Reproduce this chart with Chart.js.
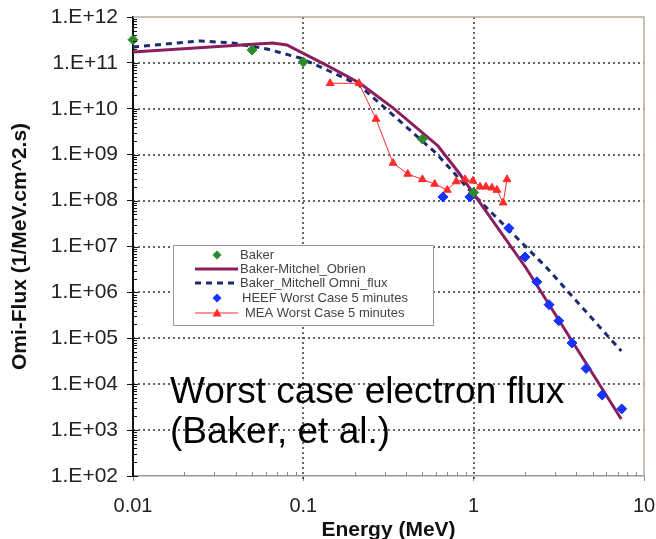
<!DOCTYPE html>
<html>
<head>
<meta charset="utf-8">
<style>
  html, body { margin: 0; padding: 0; background: #fff; }
  #wrap { width: 656px; height: 539px; }
</style>
<script src="https://cdn.jsdelivr.net/npm/chart.js@4.4.1/dist/chart.umd.min.js"></script>
</head>
<body>
<div id="wrap"><canvas id="chart" width="656" height="539"></canvas></div>
<script>
// Data (energy in MeV, flux in 1/MeV.cm^2.s)
const bakerE = [0.01, 0.05, 0.1, 0.5, 1.0];
const bakerFlux = [3.2e11, 1.9e11, 1.05e11, 2.2e9, 1.5e8];

const obrienE = [0.01, 0.066, 0.08, 0.14, 0.215, 0.336, 0.618, 0.82, 1.03, 2.03, 7.35];
const obrienFlux = [1.73e11, 2.72e11, 2.46e11, 8.5e10, 3.6e10, 1.05e10, 1.55e9, 4e8, 1.2e8, 3.4e6, 1.74e3];

const omniE = [0.01, 0.0247, 0.0386, 0.0612, 0.0957, 0.138, 0.212, 0.336, 0.6, 1.03, 1.55, 2.66, 6.59, 7.35];
const omniFlux = [2.22e11, 3.0e11, 2.72e11, 2.01e11, 1.28e11, 7.0e10, 3.3e10, 7.3e9, 1.09e9, 1.2e8, 2.66e7, 3.57e6, 8.3e4, 5.3e4];

const heefE = [0.66, 0.95, 1.61, 2.0, 2.35, 2.77, 3.16, 3.78, 4.57, 5.68, 7.4];
const heefFlux = [1.2e8, 1.2e8, 2.5e7, 5.9e6, 1.7e6, 5.4e5, 2.4e5, 7.9e4, 2.2e4, 5.8e3, 2.9e3];

const meaE = [0.1436, 0.212, 0.267, 0.336, 0.41, 0.5, 0.59, 0.7, 0.79, 0.89, 0.99, 1.09, 1.18, 1.28, 1.37, 1.49, 1.57];
const meaFlux = [3.6e10, 3.6e10, 6e9, 6.6e8, 3.8e8, 2.9e8, 2.3e8, 1.7e8, 2.6e8, 2.9e8, 2.7e8, 2e8, 2e8, 1.9e8, 1.7e8, 9e7, 2.9e8];

const xTicks = [0.01, 0.1, 1, 10];
const yTicks = [1e2, 1e3, 1e4, 1e5, 1e6, 1e7, 1e8, 1e9, 1e10, 1e11, 1e12];

const legendNames = ['Baker', 'Baker-Mitchel_Obrien', 'Baker_Mitchell Omni_flux', 'HEEF Worst Case 5 minutes', 'MEA Worst Case 5 minutes'];
const noteLines = ['Worst case electron flux', '(Baker, et al.)'];

const FONT = "'Liberation Sans', Arial, sans-serif";
Chart.defaults.font.family = FONT;

function pts(xs, ys) {
    return xs.map((x, i) => ({ x: x, y: ys[i] }));
}

const colors = {
    baker: '#2b8a2b',
    obrien: '#8b1f5e',
    omni: '#1c2a6e',
    heef: '#1533ff',
    mea: '#ff2a2a'
};

// dotted grid at the decades, drawn under the data
const dottedGrid = {
    id: 'dottedGrid',
    beforeDatasetsDraw(chart) {
        const ctx = chart.ctx;
        const xs = chart.scales.x;
        const ys = chart.scales.y;
        const a = chart.chartArea;
        ctx.save();
        ctx.strokeStyle = '#333';
        ctx.lineWidth = 1.5;
        ctx.setLineDash([2, 3]);
        yTicks.slice(1, -1).forEach(v => {
            const py = Math.round(ys.getPixelForValue(v));
            ctx.beginPath();
            ctx.moveTo(a.left, py);
            ctx.lineTo(a.right, py);
            ctx.stroke();
        });
        xTicks.slice(1, -1).forEach(v => {
            const px = Math.round(xs.getPixelForValue(v));
            ctx.beginPath();
            ctx.moveTo(px, a.top);
            ctx.lineTo(px, a.bottom + 4);
            ctx.stroke();
        });
        ctx.restore();
    }
};

// minor ticks, top/right frame, legend box and the note text
const decorations = {
    id: 'decorations',
    afterDraw(chart) {
        const ctx = chart.ctx;
        const xs = chart.scales.x;
        const ys = chart.scales.y;
        const a = chart.chartArea;
        ctx.save();

        // frame top and right
        ctx.strokeStyle = '#b5ab98';
        ctx.lineWidth = 1.5;
        ctx.beginPath();
        ctx.moveTo(a.left, a.top);
        ctx.lineTo(a.right, a.top);
        ctx.lineTo(a.right, a.bottom);
        ctx.stroke();

        // y minor ticks (inside)
        ctx.strokeStyle = '#111';
        ctx.lineWidth = 1;
        for (let e = 2; e < 12; e++) {
            for (let k = 1; k < 10; k++) {
                const py = Math.round(ys.getPixelForValue(k * Math.pow(10, e))) + 0.5;
                ctx.beginPath();
                ctx.moveTo(a.left, py);
                ctx.lineTo(a.left + (k === 1 ? 5 : 4), py);
                ctx.stroke();
            }
        }
        // x minor ticks (inside)
        ctx.strokeStyle = '#888';
        for (let e = -2; e < 1; e++) {
            for (let k = 2; k < 10; k++) {
                const px = Math.round(xs.getPixelForValue(k * Math.pow(10, e))) + 0.5;
                ctx.beginPath();
                ctx.moveTo(px, a.bottom);
                ctx.lineTo(px, a.bottom - 4);
                ctx.stroke();
            }
        }

        // note text
        ctx.fillStyle = '#000';
        ctx.font = '37px ' + FONT;
        ctx.textAlign = 'left';
        ctx.textBaseline = 'alphabetic';
        ctx.fillText(noteLines[0], 170, 403);
        ctx.fillText(noteLines[1], 170, 443);

        // legend
        const lx = 173, ly = 245, lw = 260, lh = 80;
        ctx.fillStyle = '#fff';
        ctx.fillRect(lx, ly, lw, lh);
        ctx.strokeStyle = '#999';
        ctx.lineWidth = 1;
        ctx.strokeRect(lx + 0.5, ly + 0.5, lw, lh);

        const rows = [255, 269, 283, 298, 313];
        const textX = [240, 240, 240, 242, 245];
        const sx = 217;

        function diamond(x, y, r, c) {
            ctx.fillStyle = c;
            ctx.beginPath();
            ctx.moveTo(x, y - r);
            ctx.lineTo(x + r, y);
            ctx.lineTo(x, y + r);
            ctx.lineTo(x - r, y);
            ctx.closePath();
            ctx.fill();
        }

        diamond(sx, rows[0], 4.5, colors.baker);

        ctx.strokeStyle = colors.obrien;
        ctx.lineWidth = 3;
        ctx.beginPath();
        ctx.moveTo(195, rows[1]);
        ctx.lineTo(238, rows[1]);
        ctx.stroke();

        ctx.strokeStyle = colors.omni;
        ctx.setLineDash([6, 5]);
        ctx.beginPath();
        ctx.moveTo(195, rows[2]);
        ctx.lineTo(238, rows[2]);
        ctx.stroke();
        ctx.setLineDash([]);

        diamond(sx, rows[3], 4.5, colors.heef);

        ctx.strokeStyle = colors.mea;
        ctx.lineWidth = 1;
        ctx.beginPath();
        ctx.moveTo(195, rows[4]);
        ctx.lineTo(238, rows[4]);
        ctx.stroke();
        ctx.fillStyle = colors.mea;
        ctx.beginPath();
        ctx.moveTo(sx, rows[4] - 4.5);
        ctx.lineTo(sx + 4.5, rows[4] + 3.5);
        ctx.lineTo(sx - 4.5, rows[4] + 3.5);
        ctx.closePath();
        ctx.fill();

        ctx.fillStyle = '#444';
        ctx.font = '13px ' + FONT;
        ctx.textBaseline = 'middle';
        legendNames.forEach((name, i) => ctx.fillText(name, textX[i], rows[i]));

        ctx.restore();
    }
};

new Chart(document.getElementById('chart'), {
    type: 'scatter',
    data: {
        datasets: [
            {
                label: legendNames[0],
                data: pts(bakerE, bakerFlux),
                showLine: false,
                pointStyle: 'rectRot',
                pointRadius: 5,
                backgroundColor: colors.baker,
                borderColor: colors.baker,
                clip: false,
                order: 0
            },
            {
                label: legendNames[1],
                data: pts(obrienE, obrienFlux),
                showLine: true,
                pointRadius: 0,
                borderColor: colors.obrien,
                borderWidth: 3,
                order: 3
            },
            {
                label: legendNames[2],
                data: pts(omniE, omniFlux),
                showLine: true,
                pointRadius: 0,
                borderColor: colors.omni,
                borderWidth: 3,
                borderDash: [6, 5],
                order: 4
            },
            {
                label: legendNames[3],
                data: pts(heefE, heefFlux),
                showLine: false,
                pointStyle: 'rectRot',
                pointRadius: 5,
                backgroundColor: colors.heef,
                borderColor: colors.heef,
                clip: false,
                order: 1
            },
            {
                label: legendNames[4],
                data: pts(meaE, meaFlux),
                showLine: true,
                pointStyle: 'triangle',
                pointRadius: 4.5,
                borderWidth: 1,
                borderColor: colors.mea,
                backgroundColor: colors.mea,
                order: 2
            }
        ]
    },
    options: {
        responsive: false,
        animation: false,
        layout: { padding: { top: 17, right: 12, left: 0, bottom: 0 } },
        plugins: {
            legend: { display: false },
            tooltip: { enabled: false }
        },
        scales: {
            x: {
                type: 'logarithmic',
                min: 0.01,
                max: 10,
                afterBuildTicks: s => { s.ticks = xTicks.map(v => ({ value: v })); },
                afterFit: s => { s.height = 63; s.paddingLeft = 0; s.paddingRight = 0; },
                ticks: {
                    autoSkip: false,
                    maxRotation: 0,
                    padding: 13,
                    color: '#222',
                    font: { size: 20 },
                    callback: v => String(v)
                },
                grid: {
                    drawOnChartArea: false,
                    tickColor: '#888',
                    tickLength: 5
                },
                border: { color: '#999', width: 1.5 },
                title: {
                    display: true,
                    text: 'Energy (MeV)',
                    color: '#111',
                    font: { size: 21, weight: 'bold', lineHeight: 0.8 },
                    padding: { top: 0, bottom: 0 }
                }
            },
            y: {
                type: 'logarithmic',
                min: 1e2,
                max: 1e12,
                afterBuildTicks: s => { s.ticks = yTicks.map(v => ({ value: v })); },
                afterFit: s => { s.width = 133; s.paddingTop = 0; s.paddingBottom = 0; },
                ticks: {
                    autoSkip: false,
                    padding: 9,
                    color: '#222',
                    font: { size: 21 },
                    callback: v => '1.E+' + String(Math.round(Math.log10(v))).padStart(2, '0')
                },
                grid: {
                    drawOnChartArea: false,
                    tickColor: '#111',
                    tickLength: 6
                },
                border: { color: '#111', width: 2 },
                title: {
                    display: true,
                    text: 'Omi-Flux (1/MeV.cm^2.s)',
                    color: '#111',
                    font: { size: 21, weight: 'bold', lineHeight: 0.8 },
                    padding: { top: 12, bottom: 0 }
                }
            }
        }
    },
    plugins: [dottedGrid, decorations]
});
</script>
</body>
</html>
